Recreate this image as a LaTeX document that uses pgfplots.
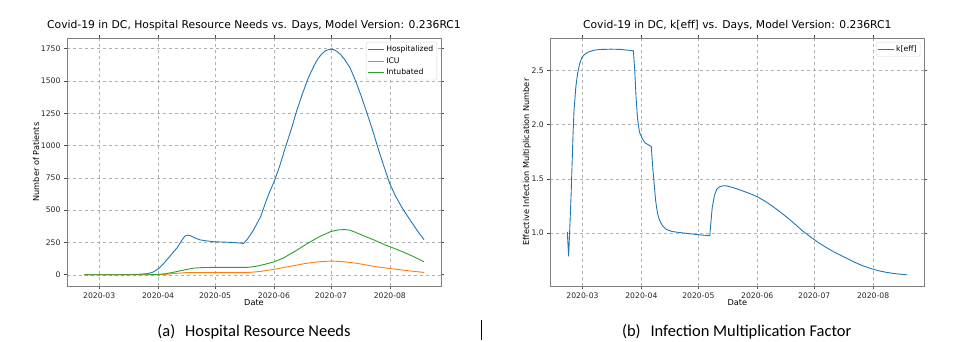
\documentclass[border=0pt]{standalone}
\usepackage{pgfplots}
\pgfplotsset{compat=1.18}
\usepackage{fontspec}
\setmainfont{DejaVu Sans}
\newfontfamily\capfont{Carlito}
\definecolor{tabblue}{HTML}{1F77B4}
\definecolor{taborange}{HTML}{FF7F0E}
\definecolor{tabgreen}{HTML}{2CA02C}
\definecolor{gridgray}{HTML}{B0B0B0}
\definecolor{framegray}{HTML}{808080}

\pgfplotsset{
  mplstyle/.style={
    scale only axis, width=374bp, height=248bp, anchor=south west,
    axis line style={framegray, line width=0.8bp},
    tick align=outside, major tick length=3bp,
    tick style={black!70, line width=0.6bp},
    xtick={0,31,61,92,122,153},
    xticklabels={2020-03,2020-04,2020-05,2020-06,2020-07,2020-08},
    xmin=-16.95, xmax=179.95,
    grid=major, grid style={gridgray, dashed, line width=0.5bp},
    ticklabel style={font=\fontsize{7.7}{9}\selectfont, text=black!85},
    /pgf/number format/assume math mode=true,
    title style={font=\fontsize{10.8}{13}\selectfont, at={(0.5,1)}, anchor=base, yshift=3.7bp, inner sep=0pt},
    label style={font=\fontsize{8.2}{10}\selectfont},
    xlabel style={at={(axis description cs:0.5,-0.067)}, anchor=center, inner sep=0pt},
    legend style={font=\fontsize{7.7}{9}\selectfont, draw=black!15, rounded corners=2bp,
      at={(1,1)}, anchor=north east, xshift=-4bp, yshift=-4bp, fill=white,
      inner sep=1.5bp, row sep=0.5bp},
    legend cell align=left,
    legend image code/.code={\draw[#1] (0bp,0bp) -- (15.7bp,0bp);},
    every axis plot/.append style={line width=0.9bp, no marks},
  }
}

\begin{document}
\begin{tikzpicture}[x=1bp,y=1bp]
\path[use as bounding box] (0,0) rectangle (964,341);

\begin{axis}[mplstyle, at={(67bp,55bp)},
  ymin=-87, ymax=1832,
  ytick={0,250,500,750,1000,1250,1500,1750},
  /pgf/number format/1000 sep={},
  title={Covid-19 in DC, Hospital Resource Needs vs. Days, Model Version: 0.236RC1},
  xlabel={Date}, ylabel={Number of Patients},
  ylabel style={at={(axis description cs:-0.083,0.5)}, anchor=center, inner sep=0pt},
]
\addplot[tabblue] coordinates {
(-8,0) (0,0) (10,0) (20,3) (25,8) (28,18) (31,44) (33,72) (35,105) (37,139) (39,175) (41,208) (43,255) (45,298) (46.5,307) (48,302) (50,288) (53,270) (57,261) (61,255) (65,253) (70,250) (73,247) (76,242) (78,275) (81,340) (83,395) (85,450) (88,576) (90,650) (92,717) (95,840) (98,985) (101,1120) (104,1270) (107,1400) (110,1520) (113,1615) (115,1668) (117,1706) (119,1732) (120.5,1741) (122,1745) (123.5,1742) (125,1730) (127,1705) (129,1670) (132,1604) (135,1500) (138,1380) (141,1250) (144,1116) (147,970) (150,835) (153,704) (156,610) (159,530) (162,460) (165,395) (168,330) (171,272)
};
\addlegendentry{Hospitalized}
\addplot[taborange] coordinates {
(-8,0) (28,0) (32,1) (35,3) (40,10) (45,16) (50,17) (78,17) (85,26) (92,42) (100,64) (108,86) (115,100) (122,106) (128,102) (135,90) (142,72) (146,62) (150,54) (157,41) (164,29) (171,18)
};
\addlegendentry{ICU}
\addplot[tabgreen] coordinates {
(-8,0) (25,0) (31,2) (35,8) (40,22) (45,38) (50,52) (55,56) (60,57) (70,57) (78,57) (82,64) (87,80) (92,100) (97,130) (104,190) (110,245) (116,295) (122,335) (126,347) (129,350) (132,345) (136,322) (140,297) (145,267) (150,234) (155,206) (160,176) (165,144) (171,100)
};
\addlegendentry{Intubated}
\end{axis}

\begin{axis}[mplstyle, at={(550.3bp,55bp)},
  ymin=0.512, ymax=2.798,
  ytick={1.0,1.5,2.0,2.5},
  yticklabel style={/pgf/number format/.cd, fixed, fixed zerofill, precision=1},
  title={Covid-19 in DC, k[eff] vs. Days, Model Version: 0.236RC1},
  xlabel={Date}, ylabel={Effective Infection Multiplication Number},
  ylabel style={at={(axis description cs:-0.063,0.5)}, anchor=center, inner sep=0pt},
]
\addplot[tabblue] coordinates {
(-8,1.01) (-7.3,0.785) (-6,1.35) (-5,1.9) (-4.5,2.12) (-3.5,2.35) (-2.6,2.47) (-1.5,2.56) (-0.3,2.62) (1,2.645) (3,2.668) (6,2.685) (9,2.692) (15,2.695) (20,2.693) (26.8,2.68) (27.5,2.5) (28.2,2.25) (29,2.05) (30,1.93) (31.5,1.87) (33,1.83) (35,1.81) (36.2,1.80) (37,1.6) (37.5,1.5) (38.5,1.3) (39.5,1.18) (40.5,1.12) (42,1.07) (44,1.035) (47,1.015) (51,1.005) (56,0.995) (61,0.985) (67,0.975) (67.6,1.1) (68.3,1.236) (69.5,1.35) (70.7,1.405) (72,1.425) (74,1.436) (76,1.435) (80,1.415) (84,1.39) (88,1.365) (92,1.335) (96,1.295) (100,1.248) (104,1.195) (108,1.14) (112,1.08) (116,1.018) (120,0.965) (124,0.915) (128,0.87) (132,0.83) (136,0.795) (140,0.76) (144,0.725) (148,0.695) (152,0.672) (156,0.652) (160,0.638) (164,0.627) (168,0.62) (171,0.615)
};
\addlegendentry{k[eff]}
\end{axis}

\node[font=\capfont\fontsize{16.5}{19}\selectfont, anchor=base] at (254,5) {(a)\hspace{0.6em}Hospital Resource Needs};
\node[font=\capfont\fontsize{16.5}{19}\selectfont, anchor=base] at (736.7,5) {(b)\hspace{0.6em}Infection Multiplication Factor};
\draw[line width=0.8bp] (481.7,1) -- (481.7,21);
\end{tikzpicture}
\end{document}
